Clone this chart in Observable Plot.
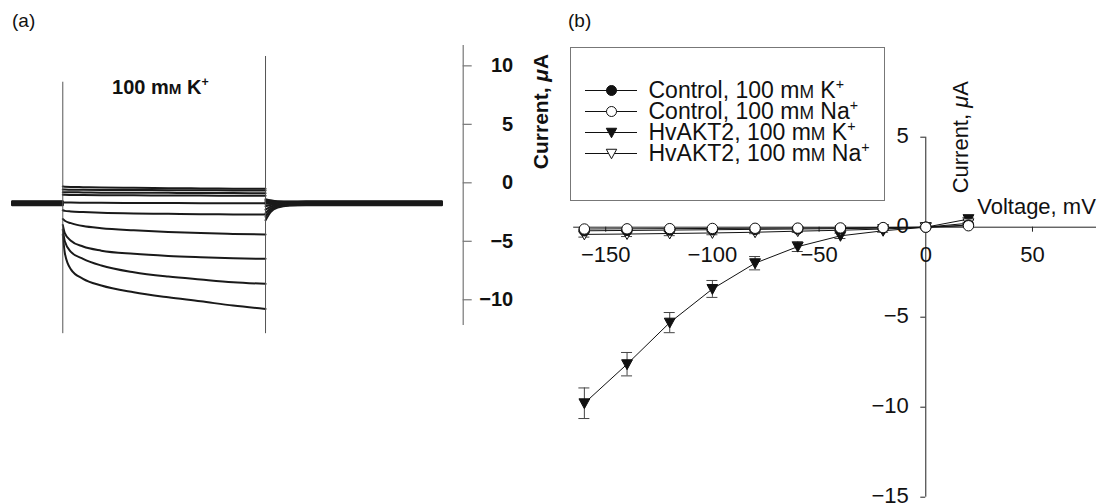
<!DOCTYPE html>
<html><head><meta charset="utf-8">
<script src="https://cdn.jsdelivr.net/npm/d3@7"></script>
<script src="https://cdn.jsdelivr.net/npm/@observablehq/plot@0.6"></script>
<style>
html,body{margin:0;padding:0;background:#fff;}
#root{position:relative;width:1102px;height:504px;overflow:hidden;font-family:"Liberation Sans",Arial,sans-serif;background:#fff;}
.panel{position:absolute;top:0;}
.tag{position:absolute;font-size:19px;line-height:22px;color:#111;}
#legend{position:absolute;left:570px;top:47px;width:315px;height:154px;border:1px solid #777;box-sizing:border-box;background:#fff;}
</style></head><body>
<div id="root">
  <div id="pa" class="panel" style="left:0;width:560px"></div>
  <div id="pb" class="panel" style="left:540px;width:562px"></div>
  <div id="legend"></div>
  <div class="tag" style="left:12px;top:10px">(a)</div>
  <div class="tag" style="left:568px;top:10px">(b)</div>
</div>
<script>
// ---------- Panel (a): current traces (time in s, current in µA) ----------
const stepTimes = [0, 0.01, 0.04, 0.1, 0.19, 0.35, 0.52, 0.68, 0.84, 1.0];
const traceA = [-0.32,-0.33,-0.35,-0.37,-0.40,-0.43,-0.46,-0.48,-0.50,-0.51];
const traceB = [-0.58,-0.58,-0.59,-0.60,-0.61,-0.62,-0.63,-0.64,-0.65,-0.66];
const traceC = [-0.80,-0.80,-0.81,-0.82,-0.84,-0.85,-0.86,-0.87,-0.88,-0.89];
const traceD = [-1.02,-1.03,-1.04,-1.05,-1.06,-1.07,-1.08,-1.09,-1.10,-1.10];
const traceE = [-1.68,-1.68,-1.69,-1.70,-1.71,-1.72,-1.73,-1.74,-1.75,-1.75];
const traceF = [-2.35,-2.40,-2.45,-2.50,-2.56,-2.62,-2.65,-2.68,-2.70,-2.71];
const traceG = [-3.10,-3.25,-3.45,-3.70,-3.88,-4.06,-4.20,-4.30,-4.37,-4.42];
const traceH = [-3.60,-4.30,-4.95,-5.45,-5.80,-6.07,-6.25,-6.36,-6.45,-6.50];
const traceI = [-4.00,-5.00,-5.90,-6.50,-7.07,-7.65,-8.02,-8.27,-8.50,-8.64];
const traceJ = [-4.40,-6.00,-7.40,-8.21,-8.78,-9.36,-9.79,-10.13,-10.50,-10.78];
const holdCurrents = [-1.58,-1.62,-1.66,-1.70,-1.74,-1.77,-1.80,-1.84,-1.88,-1.92];
const tailTimes = [1.0, 1.025, 1.06, 1.12];
const tailA = [-1.40,-1.50,-1.58,-1.60];
const tailB = [-1.50,-1.56,-1.62,-1.63];
const tailC = [-1.60,-1.63,-1.66,-1.67];
const tailD = [-1.70,-1.71,-1.71,-1.71];
const tailE = [-1.80,-1.78,-1.76,-1.75];
const tailF = [-2.00,-1.90,-1.82,-1.78];
const tailG = [-2.30,-2.05,-1.90,-1.82];
const tailH = [-2.60,-2.20,-1.98,-1.87];
const tailI = [-2.90,-2.35,-2.05,-1.91];
const tailJ = [-3.20,-2.50,-2.12,-1.95];
const holdStart = -0.25, holdEnd = 1.87;
const pulseTimes = [0, 1];
const pulseTops = [8.6, 10.8];
const pulseBottom = -12.9;
const ticksA = [-10, -5, 0, 5, 10];

// ---------- Panel (b): I–V relation ----------
const voltages = [-160,-140,-120,-100,-80,-60,-40,-20,0,20];
const ctrlK   = [-0.20,-0.18,-0.16,-0.14,-0.12,-0.10,-0.08,-0.05,0.00,0.12];
const ctrlKSe = [0.05,0.05,0.04,0.04,0.04,0.03,0.03,0.03,0.02,0.03];
const ctrlNa  = [-0.10,-0.09,-0.08,-0.07,-0.06,-0.05,-0.04,-0.02,0.00,0.08];
const ctrlNaSe= [0.05,0.05,0.04,0.04,0.04,0.03,0.03,0.03,0.02,0.03];
const hvK     = [-9.78,-7.61,-5.30,-3.43,-2.00,-1.08,-0.48,-0.20,0.00,0.45];
const hvKSe   = [0.85,0.65,0.56,0.47,0.37,0.27,0.15,0.08,0.05,0.08];
const hvNa    = [-0.40,-0.38,-0.35,-0.32,-0.28,-0.22,-0.17,-0.10,0.00,0.22];
const hvNaSe  = [0.15,0.14,0.12,0.10,0.08,0.07,0.05,0.04,0.03,0.05];
const seriesNames = ["Control, 100 mM K+", "Control, 100 mM Na+", "HvAKT2, 100 mM K+", "HvAKT2, 100 mM Na+"];
const xTicksB = [-150, -100, -50, 0, 50];
const yTicksB = [-15, -10, -5, 0, 5];

const FONT = '"Liberation Sans", Arial, Helvetica, sans-serif';
const fmt = d => d < 0 ? "\u2212" + Math.abs(d) : String(d);

// down-pointing triangle symbol
const triDown = {draw(ctx, size) {
  const r = Math.sqrt(size / Math.PI);
  ctx.moveTo(-1.04 * r, -0.85 * r);
  ctx.lineTo(1.04 * r, -0.85 * r);
  ctx.lineTo(0, 1.05 * r);
  ctx.closePath();
}};

// rich text: small-cap M, superscript +, italic µ
function enrich(root) {
  const ns = "http://www.w3.org/2000/svg";
  root.querySelectorAll("text").forEach(el => {
    const s = el.textContent;
    if (!/mM|\+|μ/.test(s)) return;
    while (el.firstChild) el.removeChild(el.firstChild);
    s.split(/(mM|\+|μ)/).forEach(part => {
      if (!part) return;
      if (part === "mM") {
        el.appendChild(document.createTextNode("m"));
        const t = document.createElementNS(ns, "tspan");
        t.setAttribute("font-size", "0.76em"); t.textContent = "M"; el.appendChild(t);
      } else if (part === "+") {
        const t = document.createElementNS(ns, "tspan");
        t.setAttribute("font-size", "0.62em"); t.setAttribute("dy", "-0.62em"); t.textContent = "+"; el.appendChild(t);
      } else if (part === "μ") {
        const t = document.createElementNS(ns, "tspan");
        t.setAttribute("font-style", "italic"); t.textContent = "μ"; el.appendChild(t);
      } else el.appendChild(document.createTextNode(part));
    });
  });
}

// ---------- build panel (a) ----------
const traces = [traceA,traceB,traceC,traceD,traceE,traceF,traceG,traceH,traceI,traceJ];
const tails = [tailA,tailB,tailC,tailD,tailE,tailF,tailG,tailH,tailI,tailJ];
const rowsA = [];
traces.forEach((tr, k) => {
  const h = holdCurrents[k];
  rowsA.push({key: k + "pre", t: holdStart, i: h}, {key: k + "pre", t: stepTimes[0], i: h});
  tr.forEach((v, j) => rowsA.push({key: k + "step", t: stepTimes[j], i: v}));
  tails[k].forEach((v, j) => rowsA.push({key: k + "post", t: tailTimes[j], i: v}));
  rowsA.push({key: k + "post", t: 1.2, i: h}, {key: k + "post", t: holdEnd, i: h});
});
const pulseRows = pulseTimes.map((t, j) => ({t, top: pulseTops[j], bottom: pulseBottom}));
const xDomA = [-0.25, 1.975];
const pxPerT = (560 - 11.6 - 97.3) / (xDomA[1] - xDomA[0]);

const plotA = Plot.plot({
  width: 560, height: 504,
  marginLeft: 11.6, marginRight: 97.3, marginTop: 45, marginBottom: 179,
  x: {domain: xDomA, axis: null},
  y: {domain: [-12.2, 11.74], axis: null},
  style: {fontFamily: FONT, fontSize: "20px", fontWeight: "bold", color: "#111", background: "transparent"},
  marks: [
    Plot.line(rowsA, {x: "t", y: "i", z: "key", stroke: "#1a1a1a", strokeWidth: 2, curve: "monotone-x"}),
    Plot.ruleX(pulseRows, {x: "t", y1: "top", y2: "bottom", stroke: "#555", strokeWidth: 1}),
    Plot.ruleX([xDomA[1]], {stroke: "#777", strokeWidth: 1.2}),
    Plot.ruleY(ticksA, {y: d => d, x1: xDomA[1], x2: xDomA[1] + 9 / pxPerT, stroke: "#777", strokeWidth: 1.2}),
    Plot.text(ticksA, {x: xDomA[1], y: d => d, dx: 50, textAnchor: "end", text: fmt, fill: "#111"}),
    Plot.text(["Current, μA"], {frameAnchor: "top-right", dx: 70, dy: 66, rotate: -90, textAnchor: "middle", fill: "#111", fontSize: 21}),
    Plot.text(["100 mM K+"], {frameAnchor: "top-left", dx: 100, dy: 34, textAnchor: "start", fill: "#111"})
  ]
});
enrich(plotA);
document.getElementById("pa").appendChild(plotA);

// ---------- build panel (b) ----------
const seriesVals = [ctrlK, ctrlNa, hvK, hvNa];
const seriesSe = [ctrlKSe, ctrlNaSe, hvKSe, hvNaSe];
const seriesStyle = [
  {symbol: "circle", fill: "#111"},
  {symbol: "circle", fill: "#fff"},
  {symbol: triDown, fill: "#111"},
  {symbol: triDown, fill: "#fff"}
];
const drawOrder = [2, 3, 0, 1];
const xDomB = [-165, 80];
const pxPerMV = (562 - 33.2 - 6) / (xDomB[1] - xDomB[0]);
const pxPerUA = (504 - 136.7 - 7.3) / 20;
const capHalf = 5.5 / pxPerMV;

const seriesMarks = [];
drawOrder.forEach(s => {
  const rows = voltages.map((v, j) => ({v, i: seriesVals[s][j], se: seriesSe[s][j]}));
  seriesMarks.push(
    Plot.line(rows, {x: "v", y: "i", stroke: "#111", strokeWidth: 1}),
    Plot.ruleX(rows, {x: "v", y1: d => d.i - d.se, y2: d => d.i + d.se, stroke: "#444", strokeWidth: 1}),
    Plot.ruleY(rows, {y: d => d.i + d.se, x1: d => d.v - capHalf, x2: d => d.v + capHalf, stroke: "#444", strokeWidth: 1}),
    Plot.ruleY(rows, {y: d => d.i - d.se, x1: d => d.v - capHalf, x2: d => d.v + capHalf, stroke: "#444", strokeWidth: 1}),
    Plot.dot(rows, {x: "v", y: "i", r: 5.2, symbol: seriesStyle[s].symbol, fill: seriesStyle[s].fill, stroke: "#111", strokeWidth: 1})
  );
});

const plotB = Plot.plot({
  width: 562, height: 504,
  marginLeft: 33.2, marginRight: 6, marginTop: 136.7, marginBottom: 7.3,
  x: {domain: xDomB, axis: null},
  y: {domain: [-15, 5], axis: null},
  style: {fontFamily: FONT, fontSize: "22px", color: "#111", background: "transparent"},
  marks: [
    Plot.ruleY([0], {stroke: "#222", strokeWidth: 1}),
    Plot.ruleX([0], {stroke: "#222", strokeWidth: 1}),
    Plot.ruleX(xTicksB, {x: d => d, y1: 0, y2: -5 / pxPerUA, stroke: "#222"}),
    Plot.ruleY(yTicksB, {y: d => d, x1: 0, x2: -5 / pxPerMV, stroke: "#222"}),
    Plot.text(xTicksB, {x: d => d, y: 0, dy: 28, text: fmt, fill: "#111"}),
    Plot.text(yTicksB, {x: 0, y: d => d, dx: -17, dy: -1, textAnchor: "end", text: fmt, fill: "#111"}),
    ...seriesMarks,
    Plot.text(["Current, μA"], {frameAnchor: "top-left", dx: 379, dy: 0, rotate: -90, textAnchor: "middle", fill: "#111"}),
    Plot.text(["Voltage, mV"], {frameAnchor: "top-left", dx: 403.5, dy: 61, textAnchor: "start", fill: "#111"})
  ]
});
enrich(plotB);
document.getElementById("pb").appendChild(plotB);

// ---------- legend ----------
const legendPlot = Plot.plot({
  width: 313, height: 152, margin: 0,
  x: {type: "identity"},
  y: {type: "point", domain: seriesNames, range: [41.3, 106], padding: 0, axis: null},
  style: {fontFamily: FONT, fontSize: "23px", color: "#111", background: "transparent"},
  marks: [
    Plot.ruleY(seriesNames, {y: d => d, x1: 14, x2: 66, stroke: "#111", strokeWidth: 1}),
    ...seriesNames.map((n, s) => Plot.dot([n], {x: 40, y: d => d, r: 5, symbol: seriesStyle[s].symbol, fill: seriesStyle[s].fill, stroke: "#111", strokeWidth: 1})),
    Plot.text(seriesNames, {x: 77, y: d => d, textAnchor: "start", text: d => d, fill: "#111"})
  ]
});
enrich(legendPlot);
document.getElementById("legend").appendChild(legendPlot);
</script>
</body></html>
